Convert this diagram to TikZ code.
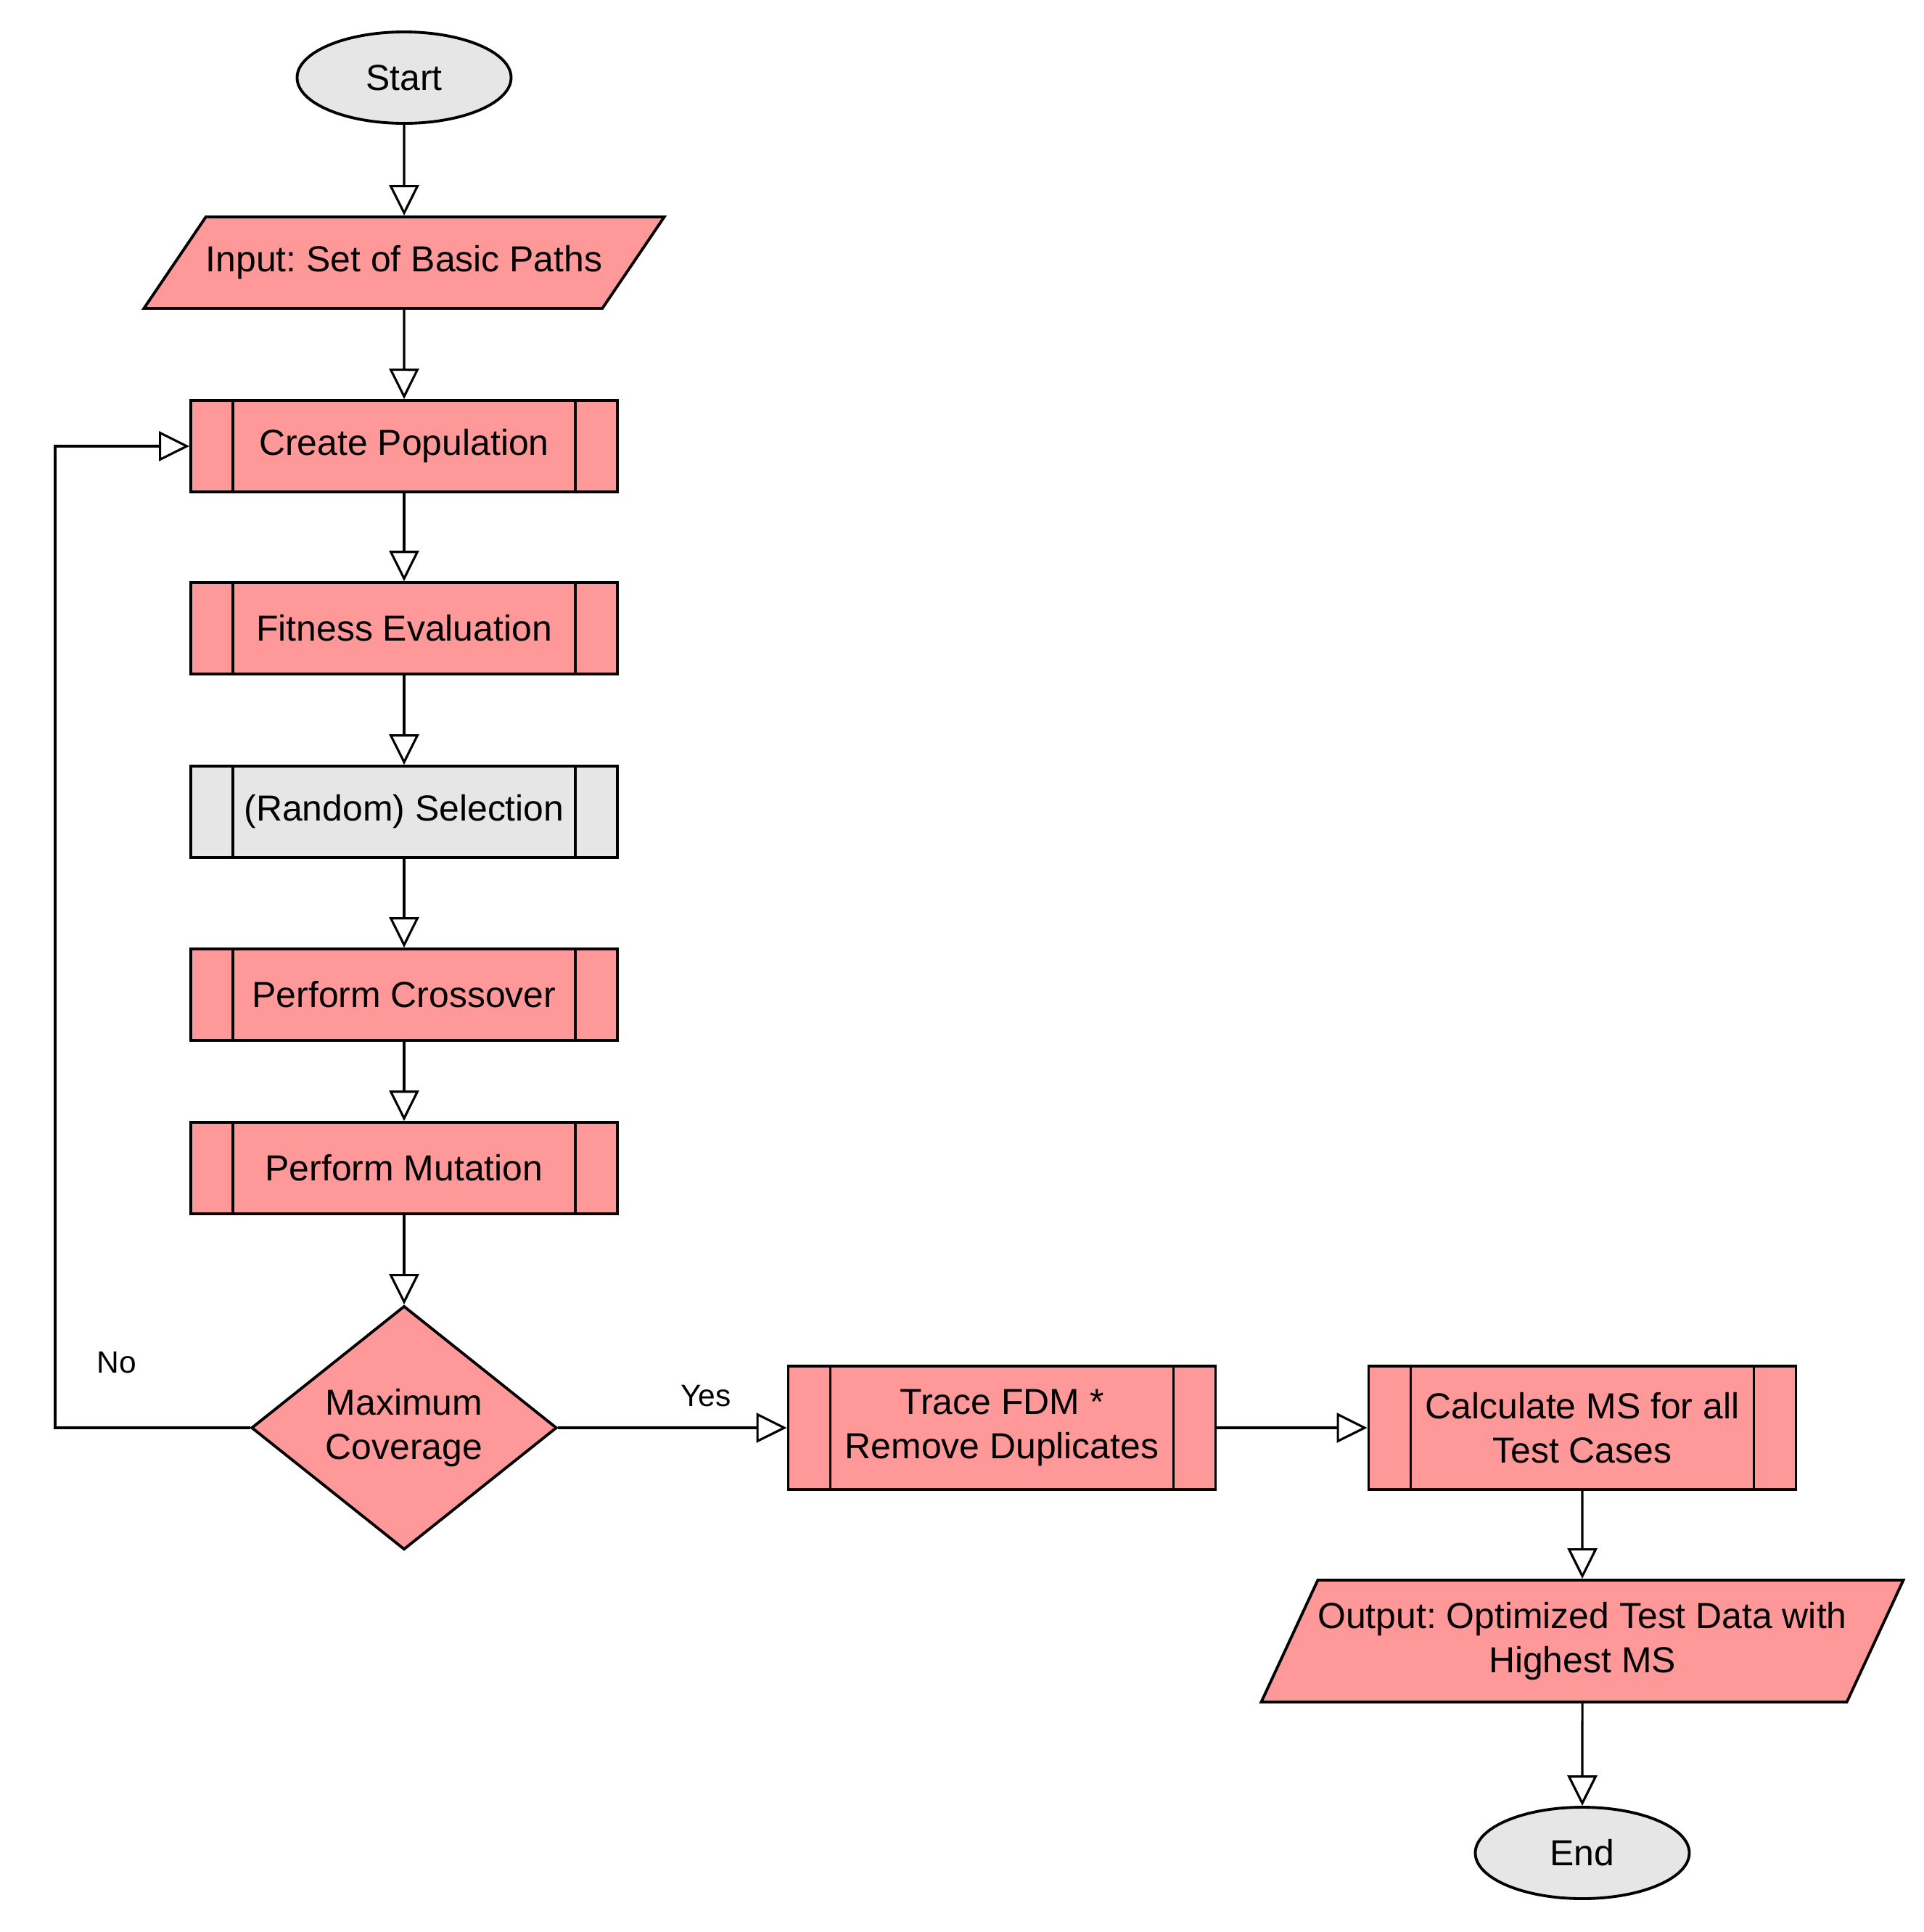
\documentclass[tikz,border=0pt]{standalone}
\usepackage{fontspec}
\setmainfont{Liberation Sans}
\usepackage{xcolor}
\usepackage{tikz}
\usetikzlibrary{arrows.meta,shapes.geometric,positioning}
\definecolor{boxpink}{RGB}{255, 153, 153}
\definecolor{termgray}{RGB}{230, 230, 230}
\frenchspacing

\begin{document}
\begin{tikzpicture}[
    font=\fontsize{14.2}{17.5}\selectfont,
    shapeline/.style={draw, line width=1.1pt},
    terminal/.style={shapeline, ellipse, fill=termgray, minimum width=2.95cm, minimum height=1.26cm, inner sep=0pt},
    iobox/.style={shapeline, trapezium, fill=boxpink, trapezium stretches body, inner sep=0pt, align=center},
    procbox/.style={shapeline, rectangle, fill=boxpink, minimum width=5.88cm, minimum height=1.26cm, inner sep=0pt, align=center,
        path picture={
            \draw[line width=0.9pt] ([xshift=0.58cm]path picture bounding box.north west) -- ([xshift=0.58cm]path picture bounding box.south west);
            \draw[line width=0.9pt] ([xshift=-0.58cm]path picture bounding box.north east) -- ([xshift=-0.58cm]path picture bounding box.south east);
        }},
    decision/.style={shapeline, diamond, fill=boxpink, minimum width=4.21cm, minimum height=3.36cm, aspect=1.25, inner sep=0pt, align=center},
    arr/.style={line width=0.9pt, -{Triangle[length=0.42cm, width=0.41cm, fill=white]}},
    branch/.style={font=\fontsize{12.1}{14}\selectfont}
]
    \useasboundingbox (0,0) rectangle (26.52,-26.63);

    % Start and input
    \node[terminal] (start) at (5.57,-1.07) {Start};
    \node[iobox, trapezium left angle=28.6, trapezium right angle=151.4, minimum width=7.16cm, minimum height=1.26cm] (input) at (5.57,-3.62) {Input: Set of Basic Paths};

    % Genetic loop
    \node[procbox] (create) at (5.57,-6.15) {Create Population};
    \node[procbox] (fitness) at (5.57,-8.66) {Fitness Evaluation};
    \node[procbox, fill=termgray] (select) at (5.57,-11.19) {(Random) Selection};
    \node[procbox] (cross) at (5.57,-13.71) {Perform Crossover};
    \node[procbox] (mutate) at (5.57,-16.10) {Perform Mutation};
    \node[decision] (coverage) at (5.57,-19.68) {Maximum\\Coverage};

    % After the loop
    \node[procbox, minimum width=5.89cm, minimum height=1.70cm] (trace) at (13.81,-19.68) {Trace FDM *\\Remove Duplicates};
    \node[procbox, minimum width=5.89cm, minimum height=1.70cm] (calc) at (21.81,-19.68) {Calculate MS for all\\Test Cases};
    \node[iobox, trapezium left angle=54.2, trapezium right angle=125.8, inner xsep=-0.6mm, minimum width=8.85cm, minimum height=1.68cm] (output) at (21.81,-22.62) {Output: Optimized Test Data with\\Highest MS};
    \node[terminal] (end) at (21.81,-25.54) {End};

    % Connectors
    \draw[arr] (start) -- (input);
    \draw[arr] (input) -- (create);
    \draw[arr] (create) -- (fitness);
    \draw[arr] (fitness) -- (select);
    \draw[arr] (select) -- (cross);
    \draw[arr] (cross) -- (mutate);
    \draw[arr] (mutate) -- (coverage);
    \draw[arr] (coverage) -- (trace);
    \draw[arr] (trace) -- (calc);
    \draw[arr] (calc) -- (output);
    \draw[arr] (output) -- (end);

    % Back to population
    \coordinate (back) at (0.76,-6.15);
    \draw[arr] (coverage.west) -| (back) -- (create.west);

    % Branch labels
    \node[branch] (no) at (1.61,-18.78) {No};
    \node[branch] (yes) at (9.73,-19.24) {Yes};
\end{tikzpicture}
\end{document}
